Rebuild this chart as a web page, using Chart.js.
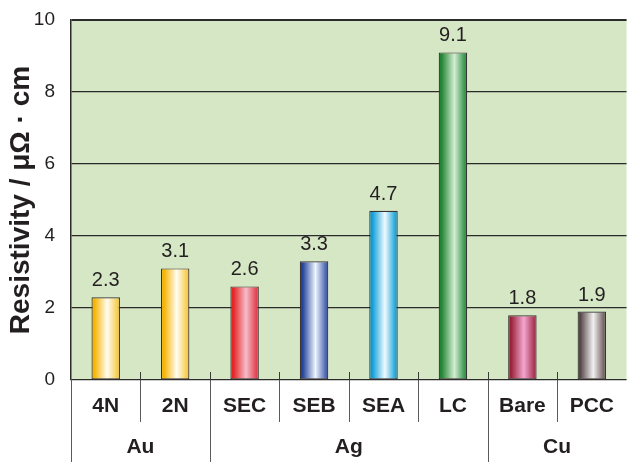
<!DOCTYPE html>
<html>
<head>
<meta charset="utf-8">
<script src="https://cdn.jsdelivr.net/npm/chart.js@4"></script>
<style>
  html, body { margin: 0; padding: 0; background: #ffffff; }
  #wrap { width: 628px; height: 462px; }
</style>
</head>
<body>
<div id="wrap"><canvas id="chart" width="628" height="462"></canvas></div>
<script>
// Resistivity of bonding wire materials
const categories = ['4N', '2N', 'SEC', 'SEB', 'SEA', 'LC', 'Bare', 'PCC'];
const resistivity = [2.3, 3.1, 2.6, 3.3, 4.7, 9.1, 1.8, 1.9];
const groupNames = ['Au', 'Ag', 'Cu'];
const groupSizes = [2, 4, 2];
const yTicks = [0, 2, 4, 6, 8, 10];

// left edge colour, highlight, right edge colour for each bar
const barShades = [
  ['#f6b300', '#fffdf2', '#f7cc4a'],
  ['#f6b300', '#fffdf2', '#f7cc4a'],
  ['#e42424', '#f7bccb', '#e2404e'],
  ['#24449a', '#f0f5ff', '#4862ae'],
  ['#0c9cd8', '#f0fbff', '#1ca6dc'],
  ['#238534', '#d4edd2', '#34954a'],
  ['#982238', '#f4a6d0', '#a83454'],
  ['#574849', '#f3f0f0', '#746465']
];

const FONT = "'Liberation Sans', Arial, Helvetica, sans-serif";
const BAR_PCT = 0.41;

// group boundaries (index positions) and group centres
const groupEdges = [0];
groupSizes.forEach(s => groupEdges.push(groupEdges[groupEdges.length - 1] + s));
const groupCentres = groupSizes.map((s, i) => groupEdges[i] + (s - 1) / 2);

function barGradient(c) {
  const chart = c.chart;
  const shade = barShades[c.dataIndex];
  const xs = chart.scales.x;
  if (!chart.chartArea || !xs || !xs.width) return shade[0];
  const cx = xs.getPixelForValue(c.dataIndex);
  const w = xs.width / categories.length * BAR_PCT;
  const g = chart.ctx.createLinearGradient(cx - w / 2, 0, cx + w / 2, 0);
  g.addColorStop(0, shade[0]);
  g.addColorStop(0.1, shade[0]);
  g.addColorStop(0.55, shade[1]);
  g.addColorStop(0.92, shade[2]);
  g.addColorStop(1, shade[2]);
  return g;
}

const plotBackground = {
  id: 'plotBackground',
  beforeDraw(chart) {
    const { ctx, chartArea: a } = chart;
    ctx.save();
    ctx.fillStyle = '#d6e7c5';
    ctx.fillRect(a.left, a.top, a.right - a.left, a.bottom - a.top);
    ctx.restore();
  }
};

// category separators: short inner ticks, lines below the axis, full lines at group edges
const separators = {
  id: 'separators',
  afterDraw(chart) {
    const { ctx, chartArea: a } = chart;
    const xs = chart.scales.x;
    const step = xs.width / categories.length;
    ctx.save();
    ctx.lineWidth = 1;
    for (let i = 0; i < categories.length; i++) {
      const x = Math.round(xs.left + i * step) + 0.5;
      const isGroupEdge = groupEdges.includes(i);
      ctx.strokeStyle = '#5a5a5a';
      ctx.beginPath();
      ctx.moveTo(x, a.bottom);
      ctx.lineTo(x, isGroupEdge ? chart.height : a.bottom + 42);
      ctx.stroke();
      if (i > 0) {
        ctx.strokeStyle = '#3a3a3a';
        ctx.beginPath();
        ctx.moveTo(x, a.bottom - 8);
        ctx.lineTo(x, a.bottom);
        ctx.stroke();
      }
    }
    ctx.restore();
  }
};

const valueLabels = {
  id: 'valueLabels',
  afterDatasetsDraw(chart) {
    const { ctx } = chart;
    const meta = chart.getDatasetMeta(0);
    ctx.save();
    ctx.font = '20px ' + FONT;
    ctx.fillStyle = '#231f20';
    ctx.textAlign = 'center';
    ctx.textBaseline = 'alphabetic';
    meta.data.forEach((el, i) => {
      ctx.fillText(resistivity[i].toFixed(1), el.x, el.y - 11);
    });
    ctx.restore();
  }
};

new Chart(document.getElementById('chart'), {
  type: 'bar',
  data: {
    labels: categories,
    datasets: [{
      data: resistivity,
      backgroundColor: barGradient,
      borderColor: '#3a3333',
      borderWidth: 1.2,
      borderSkipped: false,
      barPercentage: BAR_PCT,
      categoryPercentage: 1
    }]
  },
  options: {
    responsive: false,
    animation: false,
    layout: { padding: { top: 20, right: 0, left: 0, bottom: 0 } },
    plugins: {
      legend: { display: false },
      tooltip: { enabled: false }
    },
    scales: {
      x: {
        type: 'category',
        position: 'bottom',
        weight: 0,
        offset: true,
        grid: { display: false, drawTicks: false },
        border: { display: false },
        ticks: {
          color: '#231f20',
          font: { family: FONT, size: 21, weight: 'bold' },
          padding: 14,
          maxRotation: 0,
          autoSkip: false
        },
        afterFit(s) { s.height = 44; }
      },
      groups: {
        type: 'linear',
        position: 'bottom',
        weight: 1,
        offset: false,
        min: -0.5,
        max: categories.length - 0.5,
        grid: { display: false, drawTicks: false, offset: false },
        border: { display: false },
        afterBuildTicks(s) { s.ticks = groupCentres.map(v => ({ value: v })); },
        ticks: {
          color: '#231f20',
          font: { family: FONT, size: 21, weight: 'bold' },
          padding: 11,
          maxRotation: 0,
          autoSkip: false,
          callback(v) {
            const k = groupCentres.indexOf(v);
            return k >= 0 ? groupNames[k] : '';
          }
        },
        afterFit(s) { s.height = 38; }
      },
      y: {
        min: 0,
        max: 10,
        afterBuildTicks(s) { s.ticks = yTicks.map(v => ({ value: v })); },
        grid: {
          color: '#2b2b2b',
          lineWidth: c => (c.tick && c.tick.value === 10 ? 2 : 1.2),
          drawTicks: false
        },
        border: { display: true, color: '#2b2b2b', width: 1.5 },
        ticks: {
          color: '#231f20',
          font: { family: FONT, size: 19 },
          padding: 16
        },
        title: {
          display: true,
          text: 'Resistivity / μΩ · cm',
          color: '#231f20',
          font: { family: FONT, size: 28, weight: 'bold' },
          padding: { top: 4, bottom: 0 }
        },
        afterFit(s) {
          s.width = 71;
          // let the plot reach the top padding; tick labels may overhang it
          s.paddingTop = 0;
          s.paddingBottom = 0;
        }
      }
    }
  },
  plugins: [plotBackground, separators, valueLabels]
});
</script>
</body>
</html>
